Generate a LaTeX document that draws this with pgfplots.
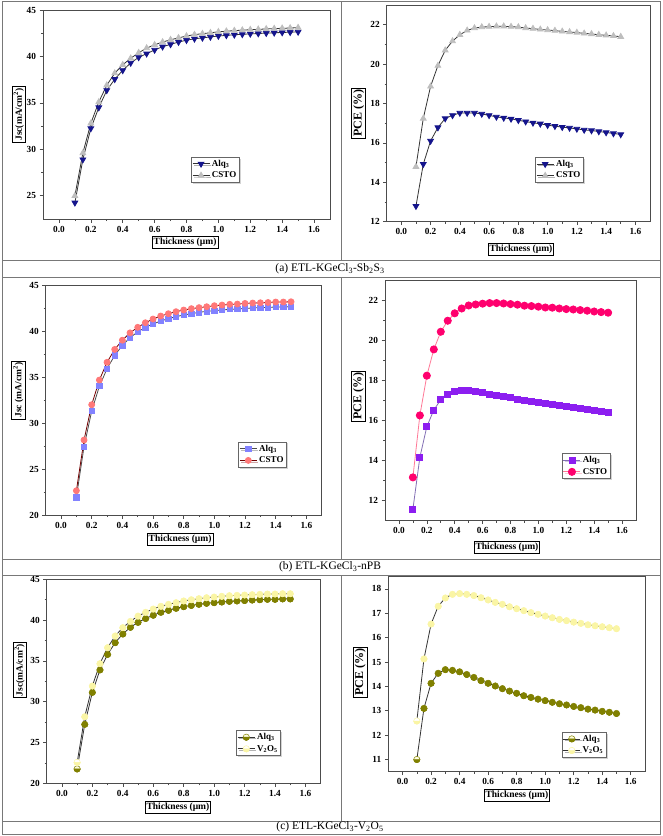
\documentclass[border=0pt]{standalone}
\usepackage{fontspec}
\setmainfont{Liberation Serif}
\usepackage{pgfplots}
\usepackage{pgfplotstable}
\pgfplotsset{compat=1.18}
\usetikzlibrary{shadows,plotmarks}

\pgfdeclareplotmark{hcirc}{%
  \pgfpathcircle{\pgfpointorigin}{\pgfplotmarksize}%
  \pgfusepathqfillstroke
  \pgfpathmoveto{\pgfqpoint{\pgfplotmarksize}{0pt}}%
  \pgfpatharc{0}{-180}{\pgfplotmarksize}%
  \pgfpathclose
  \pgfsetfillcolor{pgfstrokecolor}%
  \pgfusepathqfillstroke
}

\definecolor{navyA}{RGB}{20,20,140}
\definecolor{grayA}{RGB}{190,190,190}
\definecolor{lavB}{RGB}{130,130,255}
\definecolor{salmonB}{RGB}{255,120,120}
\definecolor{violetB}{RGB}{140,30,240}
\definecolor{violetL}{RGB}{130,110,180}
\definecolor{pinkB}{RGB}{255,0,110}
\definecolor{pinkL}{RGB}{255,120,150}
\definecolor{oliveC}{RGB}{128,128,0}
\definecolor{yellowC}{RGB}{250,245,165}
\definecolor{frameC}{RGB}{120,120,120}

\pgfplotstableread{
t alq csto
0.10 24.25 25.00
0.15 28.90 29.60
0.20 32.25 32.80
0.25 34.50 35.10
0.30 36.35 36.90
0.35 37.55 38.20
0.40 38.50 39.10
0.45 39.30 39.80
0.50 39.90 40.40
0.55 40.30 40.90
0.60 40.70 41.25
0.65 41.05 41.55
0.70 41.30 41.80
0.75 41.55 42.00
0.80 41.75 42.20
0.85 41.90 42.35
0.90 42.00 42.45
0.95 42.10 42.55
1.00 42.20 42.65
1.05 42.27 42.72
1.10 42.33 42.78
1.15 42.38 42.83
1.20 42.43 42.88
1.25 42.47 42.92
1.30 42.51 42.96
1.35 42.55 43.00
1.40 42.58 43.03
1.45 42.61 43.06
1.50 42.64 43.10
}\tabAJ

\pgfplotstableread{
t alq csto
0.10 12.79 14.79
0.15 14.92 17.24
0.20 16.10 18.87
0.25 16.78 19.92
0.30 17.24 20.70
0.35 17.40 21.17
0.40 17.52 21.49
0.45 17.52 21.71
0.50 17.52 21.83
0.55 17.47 21.88
0.60 17.40 21.90
0.65 17.32 21.92
0.70 17.27 21.92
0.75 17.22 21.90
0.80 17.15 21.88
0.85 17.08 21.83
0.90 17.02 21.80
0.95 16.97 21.76
1.00 16.90 21.73
1.05 16.85 21.70
1.10 16.80 21.66
1.15 16.76 21.63
1.20 16.71 21.60
1.25 16.66 21.56
1.30 16.63 21.53
1.35 16.58 21.49
1.40 16.53 21.46
1.45 16.48 21.43
1.50 16.43 21.39
}\tabAP

\pgfplotstableread{
t alq csto
0.10 21.92 22.64
0.15 27.43 28.15
0.20 31.30 31.99
0.25 33.99 34.67
0.30 35.90 36.60
0.35 37.35 38.00
0.40 38.44 39.00
0.45 39.28 39.80
0.50 39.90 40.40
0.55 40.40 40.90
0.60 40.76 41.30
0.65 41.09 41.63
0.70 41.34 41.88
0.75 41.56 42.10
0.80 41.74 42.28
0.85 41.88 42.43
0.90 42.03 42.54
0.95 42.14 42.64
1.00 42.21 42.75
1.05 42.28 42.82
1.10 42.36 42.90
1.15 42.39 42.93
1.20 42.46 43.00
1.25 42.50 43.04
1.30 42.54 43.07
1.35 42.57 43.10
1.40 42.61 43.15
1.45 42.61 43.15
1.50 42.64 43.18
}\tabBJ

\pgfplotstableread{
t alq csto
0.10 11.57 13.16
0.15 14.16 16.25
0.20 15.69 18.23
0.25 16.52 19.54
0.30 17.03 20.42
0.35 17.28 20.97
0.40 17.43 21.34
0.45 17.48 21.58
0.50 17.48 21.73
0.55 17.45 21.78
0.60 17.38 21.82
0.65 17.28 21.85
0.70 17.25 21.85
0.75 17.20 21.83
0.80 17.13 21.80
0.85 17.07 21.77
0.90 17.00 21.72
0.95 16.93 21.70
1.00 16.88 21.67
1.05 16.83 21.63
1.10 16.78 21.62
1.15 16.73 21.58
1.20 16.68 21.55
1.25 16.63 21.53
1.30 16.60 21.50
1.35 16.57 21.47
1.40 16.50 21.43
1.45 16.45 21.40
1.50 16.40 21.37
}\tabBP

\pgfplotstableread{
t alq vo
0.10 21.76 22.57
0.15 27.23 28.17
0.20 31.15 31.93
0.25 33.90 34.67
0.30 35.80 36.63
0.35 37.24 38.06
0.40 38.30 39.08
0.45 39.12 39.85
0.50 39.73 40.50
0.55 40.20 40.96
0.60 40.60 41.36
0.65 40.96 41.70
0.70 41.20 41.94
0.75 41.45 42.14
0.80 41.65 42.35
0.85 41.80 42.50
0.90 41.94 42.63
0.95 42.06 42.75
1.00 42.14 42.83
1.05 42.22 42.92
1.10 42.30 43.00
1.15 42.35 43.04
1.20 42.40 43.08
1.25 42.46 43.12
1.30 42.50 43.16
1.35 42.55 43.20
1.40 42.55 43.20
1.45 42.60 43.24
1.50 42.60 43.24
}\tabCJ

\pgfplotstableread{
t alq vo
0.10 11.00 12.58
0.15 13.10 15.13
0.20 14.13 16.56
0.25 14.54 17.29
0.30 14.69 17.63
0.35 14.66 17.78
0.40 14.60 17.81
0.45 14.49 17.78
0.50 14.37 17.73
0.55 14.24 17.64
0.60 14.13 17.55
0.65 14.02 17.45
0.70 13.91 17.37
0.75 13.81 17.27
0.80 13.72 17.19
0.85 13.62 17.11
0.90 13.55 17.03
0.95 13.48 16.96
1.00 13.42 16.89
1.05 13.35 16.82
1.10 13.29 16.75
1.15 13.24 16.70
1.20 13.18 16.64
1.25 13.13 16.59
1.30 13.07 16.53
1.35 13.03 16.49
1.40 12.98 16.45
1.45 12.94 16.41
1.50 12.89 16.37
}\tabCP

\pgfplotsset{
  panel/.style={
    scale only axis,
    xmin=-0.1, xmax=1.7,
    xtick={0,0.2,0.4,0.6,0.8,1.0,1.2,1.4,1.6},
    minor x tick num=1,
    minor y tick num=1,
    tick align=outside,
    xtick pos=left, ytick pos=left,
    major tick length=3.5pt, minor tick length=2pt,
    axis line style={black!70, line width=0.8pt},
    every tick/.style={black!70, line width=0.6pt},
    tick label style={font=\fontsize{9.3}{10}\selectfont\bfseries},
    /pgf/number format/assume math mode=true,
    x tick label style={/pgf/number format/.cd, fixed, fixed zerofill, precision=1, /tikz/.cd},
    y tick label style={/pgf/number format/.cd, fixed, precision=0, /tikz/.cd},
    label style={draw=black, line width=0.8pt, inner sep=1.5pt, font=\fontsize{9.5}{10}\selectfont\bfseries},
    xlabel={Thickness (µm)},
    legend cell align=left,
    legend style={anchor=north west, draw=black!60, fill=white, line width=0.6pt,
      font=\fontsize{9}{10}\selectfont\bfseries, inner sep=1pt, row sep=0pt,
      drop shadow={opacity=0.35, shadow xshift=1.5pt, shadow yshift=-1.5pt}},
    every axis plot/.append style={line width=0.8pt},
  },
  jscpanel/.style={panel, ylabel={Jsc(mA/cm\textsuperscript{2})}},
  pcepanel/.style={panel, ylabel={PCE (\%)}, ylabel style={font=\fontsize{12}{13}\selectfont\bfseries}},
}

\begin{document}
\begin{tikzpicture}
\useasboundingbox (0,0) rectangle (662pt,-836pt);
% table frame
\begin{scope}[frameC, line width=1pt]
\draw (2pt,-1.5pt) rectangle (660pt,-834pt);
\draw (2pt,-260pt) -- (660pt,-260pt);
\draw (2pt,-277pt) -- (660pt,-277pt);
\draw (2pt,-559pt) -- (660pt,-559pt);
\draw (2pt,-575pt) -- (660pt,-575pt);
\draw (2pt,-821pt) -- (660pt,-821pt);
\draw (341pt,-1.5pt) -- (341pt,-260pt);
\draw (341pt,-277pt) -- (341pt,-559pt);
\draw (341pt,-575pt) -- (341pt,-821pt);
\end{scope}
\node[font=\fontsize{11.5}{12}\selectfont] at (330pt,-268.5pt) {(a) ETL-KGeCl\textsubscript{3}-Sb\textsubscript{2}S\textsubscript{3}};
\node[font=\fontsize{11.5}{12}\selectfont] at (330pt,-567pt) {(b) ETL-KGeCl\textsubscript{3}-nPB};
\node[font=\fontsize{11.5}{12}\selectfont] at (330pt,-827pt) {(c) ETL-KGeCl\textsubscript{3}-V\textsubscript{2}O\textsubscript{5}};

% (a) Jsc
\begin{axis}[jscpanel, at={(43pt,-219pt)}, anchor=south west, width=287pt, height=209pt,
  ymin=22.5, ymax=45, ytick={25,30,35,40,45},
  xlabel style={at={(axis description cs:0.495,-0.112)}, anchor=center},
  ylabel style={at={(axis description cs:-0.084,0.5)}, anchor=center},
  legend style={at={(0.515,0.298)}}]
\addplot[black!80, mark=triangle*, mark size=3.3pt, mark options={rotate=180, navyA, fill=navyA}] table[x=t,y=alq]{\tabAJ};
\addlegendentry{Alq\textsubscript{3}}
\addplot[black!80, mark=triangle*, mark size=3.3pt, mark options={grayA, fill=grayA}] table[x=t,y=csto]{\tabAJ};
\addlegendentry{CSTO}
\end{axis}

% (a) PCE
\begin{axis}[pcepanel, at={(386.7pt,-221.7pt)}, anchor=south west, width=263.3pt, height=216.7pt,
  ymin=12, ymax=23, ytick={12,14,16,18,20,22},
  xlabel style={at={(axis description cs:0.51,-0.129)}, anchor=center},
  ylabel style={at={(axis description cs:-0.106,0.5)}, anchor=center},
  legend style={at={(0.563,0.299)}}]
\addplot[black!80, mark=triangle*, mark size=3.3pt, mark options={rotate=180, navyA, fill=navyA}] table[x=t,y=alq]{\tabAP};
\addlegendentry{Alq\textsubscript{3}}
\addplot[black!80, mark=triangle*, mark size=3.3pt, mark options={grayA, fill=grayA}] table[x=t,y=csto]{\tabAP};
\addlegendentry{CSTO}
\end{axis}

% (b) Jsc
\begin{axis}[panel, ylabel={Jsc (mA/cm\textsuperscript{2})}, at={(45.7pt,-515pt)}, anchor=south west, width=276pt, height=230pt,
  ymin=20, ymax=45, ytick={20,25,30,35,40,45},
  xlabel style={at={(axis description cs:0.487,-0.107)}, anchor=center},
  ylabel style={at={(axis description cs:-0.099,0.543)}, anchor=center},
  legend style={at={(0.697,0.319)}}]
\addplot[black!70, mark=square*, mark size=2.6pt, mark options={lavB, fill=lavB}] table[x=t,y=alq]{\tabBJ};
\addlegendentry{Alq\textsubscript{3}}
\addplot[red!45!black, mark=*, mark size=3pt, mark options={salmonB, fill=salmonB}] table[x=t,y=csto]{\tabBJ};
\addlegendentry{CSTO}
\end{axis}

% (b) PCE
\begin{axis}[pcepanel, at={(385pt,-520.7pt)}, anchor=south west, width=251pt, height=240.7pt,
  ymin=11, ymax=23, ytick={12,14,16,18,20,22},
  xlabel style={at={(axis description cs:0.486,-0.112)}, anchor=center},
  ylabel style={at={(axis description cs:-0.106,0.518)}, anchor=center},
  legend style={at={(0.704,0.281)}}]
\addplot[violetL, mark=square*, mark size=3pt, mark options={violetB, fill=violetB}] table[x=t,y=alq]{\tabBP};
\addlegendentry{Alq\textsubscript{3}}
\addplot[pinkL, mark=*, mark size=3.6pt, mark options={pinkB, fill=pinkB}] table[x=t,y=csto]{\tabBP};
\addlegendentry{CSTO}
\end{axis}

% (c) Jsc
\begin{axis}[jscpanel, at={(46.7pt,-783.3pt)}, anchor=south west, width=274pt, height=204pt,
  ymin=20, ymax=45, ytick={20,25,30,35,40,45},
  xlabel style={at={(axis description cs:0.479,-0.118)}, anchor=center},
  ylabel style={at={(axis description cs:-0.099,0.555)}, anchor=center},
  legend style={at={(0.691,0.261)}}]
\addplot[black!80, mark=hcirc, mark size=3.2pt, mark options={draw=oliveC, fill=yellowC!35, line width=0.5pt}] table[x=t,y=alq]{\tabCJ};
\addlegendentry{Alq\textsubscript{3}}
\addplot[black!80, mark=hcirc, mark size=3.2pt, mark options={draw=yellowC, fill=white, line width=0.5pt}] table[x=t,y=vo]{\tabCJ};
\addlegendentry{V\textsubscript{2}O\textsubscript{5}}
\end{axis}

% (c) PCE
\begin{axis}[pcepanel, at={(388.3pt,-771.7pt)}, anchor=south west, width=256.7pt, height=195pt,
  ymin=10.5, ymax=18.5, ytick={11,12,13,14,15,16,17,18}, minor y tick num=0,
  xlabel style={at={(axis description cs:0.501,-0.121)}, anchor=center},
  ylabel style={at={(axis description cs:-0.109,0.511)}, anchor=center},
  legend style={at={(0.675,0.205)}}]
\addplot[black!80, mark=hcirc, mark size=3.2pt, mark options={draw=oliveC, fill=yellowC!35, line width=0.5pt}] table[x=t,y=alq]{\tabCP};
\addlegendentry{Alq\textsubscript{3}}
\addplot[black!80, mark=hcirc, mark size=3.2pt, mark options={draw=yellowC, fill=white, line width=0.5pt}] table[x=t,y=vo]{\tabCP};
\addlegendentry{V\textsubscript{2}O\textsubscript{5}}
\end{axis}
\end{tikzpicture}
\end{document}
